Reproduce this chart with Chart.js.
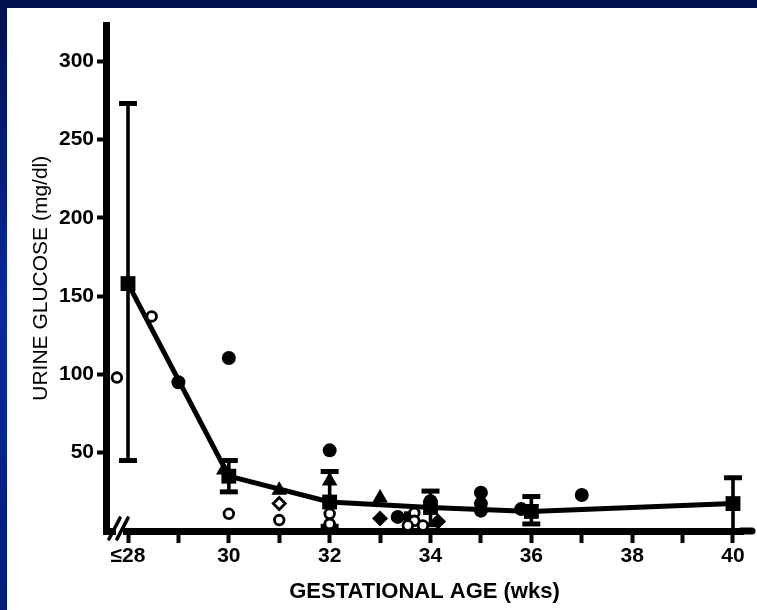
<!DOCTYPE html>
<html><head><meta charset="utf-8">
<script src="https://cdn.jsdelivr.net/npm/chart.js@4.4.1/dist/chart.umd.min.js"></script>
<style>
html,body{margin:0;padding:0;}
body{width:757px;height:610px;overflow:hidden;position:relative;
 background:linear-gradient(to bottom,#001050 0%,#0a2a9c 50%,#001c78 100%);}
#panel{position:absolute;left:7px;top:8px;width:750px;height:602px;background:#fff;overflow:hidden;}
canvas{display:block;}
</style></head><body>
<div id="panel"><canvas id="c" width="750" height="602"></canvas></div>
<script>
// ---- data ----
const weeks        = [28, 30, 32, 34, 36, 40];
const meanGlucose  = [158, 35, 18.5, 15, 12.5, 17.5];
const errLow       = [45, 25, 3, 4, 4.5, 0];
const errHigh      = [273, 45, 38, 25.5, 22, 34];

const filledCircleX = [29, 30, 32, 34, 35, 35, 35, 37, 33.35, 35.8];
const filledCircleY = [95, 110.5, 51.5, 19, 24.5, 17.5, 13, 23, 9, 14];
const openCircleX   = [27.78, 28.47, 30, 31, 32, 32, 33.68, 33.68, 33.55, 33.85];
const openCircleY   = [98, 137, 11, 7, 11, 4.5, 11.5, 6.5, 3.5, 3.5];
const triangleX     = [29.9, 31, 32, 33];
const triangleY     = [39, 26, 32, 21];
const diamondX      = [33, 34.15];
const diamondY      = [8, 6];
const openDiamondX  = [31];
const openDiamondY  = [17.5];
const smallSquareX  = [33.6];
const smallSquareY  = [8.5];

const xTickValues = [28,29,30,31,32,33,34,35,36,37,38,39,40];
const xTickLabels = {28:'≤28',30:'30',32:'32',34:'34',36:'36',38:'38',40:'40'};
const yTickValues = [50,100,150,200,250,300];
const yTickLabels = ['50','100','150','200','250','300'];

const pts = (xs, ys) => xs.map((x, i) => ({x, y: ys[i]}));

const datasets = [];
datasets.push({type:'scatter', data: pts(openCircleX, openCircleY), order:0, clip:false,
  pointStyle:'circle', pointRadius:4.8, pointBackgroundColor:'#fff', pointBorderColor:'#000', pointBorderWidth:2.8});
datasets.push({type:'scatter', data: pts(openDiamondX, openDiamondY), order:0, clip:false,
  pointStyle:'rectRot', pointRadius:6, pointBackgroundColor:'#fff', pointBorderColor:'#000', pointBorderWidth:2.8});
datasets.push({type:'scatter', data: pts(filledCircleX, filledCircleY), order:1, clip:false,
  pointStyle:'circle', pointRadius:7, pointBackgroundColor:'#000', pointBorderColor:'#000', pointBorderWidth:0});
datasets.push({type:'scatter', data: pts(triangleX, triangleY), order:1, clip:false,
  pointStyle:'triangle', pointRadius:9, pointBackgroundColor:'#000', pointBorderColor:'#000', pointBorderWidth:0});
datasets.push({type:'scatter', data: pts(diamondX, diamondY), order:1, clip:false,
  pointStyle:'rectRot', pointRadius:8, pointBackgroundColor:'#000', pointBorderColor:'#000', pointBorderWidth:0});
datasets.push({type:'scatter', data: pts(smallSquareX, smallSquareY), order:1, clip:false,
  pointStyle:'rect', pointRadius:9, pointBackgroundColor:'#000', pointBorderColor:'#000', pointBorderWidth:0});
datasets.push({type:'line', data: pts(weeks, meanGlucose), order:2, clip:false,
  borderColor:'#000', borderWidth:5, tension:0, fill:false,
  pointStyle:'rect', pointRadius:10.5, pointBackgroundColor:'#000', pointBorderColor:'#000', pointBorderWidth:0});
weeks.forEach((w, i) => {
  datasets.push({type:'line', data:[{x:w, y:errLow[i]}, {x:w, y:errHigh[i]}], order:3, clip:false,
    borderColor:'#000', borderWidth:3.6, fill:false,
    pointStyle:'line', pointRadius:9, pointBorderColor:'#000', pointBorderWidth:5});
});

// axis decoration: the "//" break near the origin and the x-axis line running on to the panel's right edge
const axisDecor = {
  id:'axisDecor',
  afterDraw(chart){
    const ctx = chart.ctx, a = chart.chartArea;
    const y0 = chart.scales.y.getPixelForValue(0);
    ctx.save();
    ctx.fillStyle = '#fff';
    ctx.fillRect(a.left + 10, y0 - 4, 7, 8);
    ctx.strokeStyle = '#000'; ctx.lineWidth = 3.6; ctx.lineCap = 'round';
    ctx.beginPath();
    ctx.moveTo(a.left + 3, y0 + 8);  ctx.lineTo(a.left + 14, y0 - 13);
    ctx.moveTo(a.left + 11, y0 + 8); ctx.lineTo(a.left + 22, y0 - 13);
    ctx.stroke();
    const endX = chart.width - 5;
    if (endX > a.right) {
      ctx.lineWidth = 7; ctx.lineCap = 'round';
      ctx.beginPath(); ctx.moveTo(a.right - 2, y0); ctx.lineTo(endX, y0); ctx.stroke();
    }
    ctx.restore();
  }
};

const chart = new Chart(document.getElementById('c'), {
  data: {datasets},
  plugins: [axisDecor],
  options: {
    responsive:false, animation:false, devicePixelRatio:1,
    layout:{padding:{top:17.5, right:3.5, left:0, bottom:0}},
    plugins:{legend:{display:false}, tooltip:{enabled:false}},
    scales:{
      x:{type:'linear', min:27.56, max:40.4,
        afterBuildTicks: s => { s.ticks = xTickValues.map(v => ({value:v})); },
        afterFit: s => { s.height = 79; },
        border:{display:true, color:'#000', width:7},
        grid:{display:true, drawOnChartArea:false, drawTicks:true, tickLength:12, tickWidth:4, tickColor:'#000'},
        ticks:{autoSkip:false, maxRotation:0, padding:1, color:'#000',
          font:{family:'"Liberation Sans", Arial, sans-serif', size:21, weight:'bold'},
          callback: v => xTickLabels[v] || ''},
        title:{display:true, text:'GESTATIONAL AGE (wks)', color:'#000',
          font:{family:'"Liberation Sans", Arial, sans-serif', size:22, weight:'bold'},
          padding:{top:0, bottom:5}}
      },
      y:{type:'linear', min:0, max:322.8,
        afterBuildTicks: s => { s.ticks = yTickValues.map(v => ({value:v})); },
        afterFit: s => { s.width = 99; },
        border:{display:true, color:'#000', width:7},
        grid:{display:true, drawOnChartArea:false, drawTicks:true, tickLength:9, tickWidth:4, tickColor:'#000'},
        ticks:{padding:3, color:'#000',
          font:{family:'"Liberation Sans", Arial, sans-serif', size:21, weight:'bold'},
          callback: v => yTickLabels[yTickValues.indexOf(v)] || ''},
        title:{display:true, text:'URINE GLUCOSE (mg/dl)', color:'#000',
          font:{family:'"Liberation Sans", Arial, sans-serif', size:21, weight:'normal'},
          padding:{top:22, bottom:0}}
      }
    }
  }
});

// set the x range so week 28 and week 40 fall where they are in the reference
const a = chart.chartArea;
const pxPerWeek = (726 - 121) / 12;
chart.options.scales.x.min = 28 - (121 - a.left) / pxPerWeek;
chart.options.scales.x.max = 28 + (a.right - 121) / pxPerWeek;
chart.update('none');
</script>
</body></html>
